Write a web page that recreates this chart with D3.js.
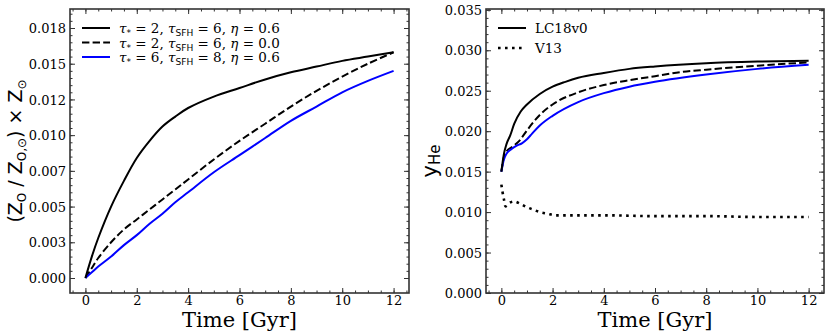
<!DOCTYPE html>
<html>
<head>
<meta charset="utf-8">
<script src="https://cdn.jsdelivr.net/npm/d3@7"></script>
<style>
  body { margin: 0; background: #fff; }
  svg { display: block; }
  .tick text { font-family: "DejaVu Serif", serif; font-size: 13px; fill: #000; }
</style>
</head>
<body>
<svg id="chart" width="831" height="336"></svg>
<script>
// ---- left panel: oxygen abundance vs time ----
var timeA = [0, 0.25, 0.5, 1, 1.5, 2, 2.5, 3, 3.5, 4, 5, 6, 7, 8, 9, 10, 11, 12];
var zFast = [0, 0.0015, 0.0028, 0.0050, 0.0068, 0.0084, 0.0096, 0.0106, 0.0113, 0.0119, 0.0127, 0.0133, 0.0139, 0.0144, 0.0148, 0.0152, 0.0155, 0.0158];
var zNoOut = [0, 0.0007, 0.0014, 0.0025, 0.0034, 0.0041, 0.0048, 0.0055, 0.0062, 0.0069, 0.0083, 0.0096, 0.0108, 0.0120, 0.0131, 0.0141, 0.0150, 0.0158];
var zSlow = [0, 0.0004, 0.0008, 0.0015, 0.0023, 0.0030, 0.0038, 0.0045, 0.0053, 0.0060, 0.0074, 0.0086, 0.0098, 0.0110, 0.0120, 0.0130, 0.0138, 0.0145];
var zTicks = [0, 0.0025, 0.005, 0.0075, 0.01, 0.0125, 0.015, 0.0175];
var zTickLabels = ["0.000", "0.003", "0.005", "0.007", "0.010", "0.012", "0.015", "0.018"];

// ---- right panel: helium yield vs time ----
var timeFast = [0, 0.1, 0.2, 0.35, 0.5, 0.75, 1, 1.5, 2, 2.5, 3, 4, 5, 6, 8, 10, 12];
var yFast = [0.0150, 0.0172, 0.0184, 0.0195, 0.0209, 0.0224, 0.0233, 0.0246, 0.0255, 0.0261, 0.0266, 0.0272, 0.0277, 0.0280, 0.0284, 0.0286, 0.0287];
var timeNoOut = [0, 0.1, 0.2, 0.4, 0.7, 1, 1.5, 2, 3, 4, 5, 6, 7, 8, 10, 12];
var yNoOut = [0.0150, 0.0168, 0.0175, 0.0180, 0.0188, 0.0201, 0.0220, 0.0233, 0.0248, 0.0257, 0.0263, 0.0268, 0.0273, 0.0276, 0.0281, 0.0285];
var timeSlow = [0, 0.1, 0.2, 0.4, 0.6, 0.8, 1, 1.2, 1.5, 2, 3, 4, 5, 6, 8, 10, 12];
var ySlow = [0.0150, 0.0165, 0.0172, 0.0178, 0.0182, 0.0185, 0.0190, 0.0197, 0.0207, 0.0219, 0.0236, 0.0247, 0.0255, 0.0261, 0.0270, 0.0277, 0.0282];
var timeV13 = [0, 0.05, 0.1, 0.16, 0.3, 0.5, 0.75, 1, 1.25, 1.5, 1.8, 2.1, 4, 6, 8, 10, 12];
var yV13 = [0.0134, 0.0124, 0.0116, 0.0107, 0.0111, 0.0113, 0.0110, 0.0106, 0.0103, 0.0100, 0.0098, 0.0096, 0.0096, 0.0095, 0.0095, 0.0094, 0.0094];
var yTicks = [0, 0.005, 0.01, 0.015, 0.02, 0.025, 0.03, 0.035];
var yTickLabels = ["0.000", "0.005", "0.010", "0.015", "0.020", "0.025", "0.030", "0.035"];

var timeTicks = [0, 2, 4, 6, 8, 10, 12];

var svg = d3.select("#chart");

function zip(xs, ys) {
  return xs.map(function(t, i) { return { t: t, v: ys[i] }; });
}

function drawPanel(p) {
  var x = d3.scaleLinear().domain([-0.6, 12.6]).range([p.left, p.right]),
      y = d3.scaleLinear().domain(p.yDomain).range([p.bottom, p.top]);
  var g = svg.append("g");

  // ticks point inward, on all four sides
  var xMinor = d3.range(-0.5, 12.6, 0.5), yMinor = d3.range(0, p.yDomain[1], p.yMinorStep);
  var addAxis = function(axis, tr) {
    var a = g.append("g").attr("transform", tr).call(axis);
    a.select(".domain").remove();
    a.selectAll(".tick line").attr("stroke", "#333").attr("stroke-width", 1);
    return a;
  };
  addAxis(d3.axisBottom(x).tickValues(xMinor).tickSize(-2.5).tickFormat(""), "translate(0," + p.bottom + ")");
  addAxis(d3.axisTop(x).tickValues(xMinor).tickSize(-2.5).tickFormat(""), "translate(0," + p.top + ")");
  addAxis(d3.axisLeft(y).tickValues(yMinor).tickSize(-2.5).tickFormat(""), "translate(" + p.left + ",0)");
  addAxis(d3.axisRight(y).tickValues(yMinor).tickSize(-2.5).tickFormat(""), "translate(" + p.right + ",0)");
  addAxis(d3.axisTop(x).tickValues(timeTicks).tickSize(-5).tickFormat(""), "translate(0," + p.top + ")");
  addAxis(d3.axisRight(y).tickValues(p.yTicks).tickSize(-5).tickFormat(""), "translate(" + p.right + ",0)");
  addAxis(d3.axisBottom(x).tickValues(timeTicks).tickSize(-5).tickPadding(3).tickFormat(d3.format("d")), "translate(0," + p.bottom + ")");
  var ya = addAxis(d3.axisLeft(y).tickValues(p.yTicks).tickSize(-5).tickPadding(4)
    .tickFormat(function(d, i) { return p.yLabels[i]; }), "translate(" + p.left + ",0)");
  ya.selectAll(".tick text").attr("dy", "0.36em");

  // lines
  var line = d3.line().x(function(d) { return x(d.t); }).y(function(d) { return y(d.v); }).curve(p.curve);
  p.series.forEach(function(s) {
    g.append("path")
      .attr("d", line(zip(s.t, s.v)))
      .attr("fill", "none")
      .attr("stroke", s.color)
      .attr("stroke-width", s.width || 2)
      .attr("stroke-dasharray", s.dash || null);
  });

  // frame
  g.append("rect")
    .attr("x", p.left).attr("y", p.top)
    .attr("width", p.right - p.left).attr("height", p.bottom - p.top)
    .attr("fill", "none").attr("stroke", "#333").attr("stroke-width", 1.6);

  // x label
  g.append("text")
    .attr("x", (p.left + p.right) / 2).attr("y", 327)
    .attr("text-anchor", "middle")
    .attr("font-family", "DejaVu Serif, serif").attr("font-size", 21)
    .text("Time [Gyr]");
  return g;
}

var left = drawPanel({
  left: 70, right: 409, top: 9, bottom: 293,
  yDomain: [-0.00105, 0.01883], yMinorStep: 0.0005,
  yTicks: zTicks, yLabels: zTickLabels,
  curve: d3.curveCatmullRom.alpha(0.5),
  series: [
    { t: timeA, v: zNoOut, color: "#000", dash: "7.4,3.2" },
    { t: timeA, v: zSlow, color: "#0000ff" },
    { t: timeA, v: zFast, color: "#000" }
  ]
});

var right = drawPanel({
  left: 486, right: 824, top: 9, bottom: 293,
  yDomain: [0, 0.0351], yMinorStep: 0.001,
  yTicks: yTicks, yLabels: yTickLabels,
  curve: d3.curveMonotoneX,
  series: [
    { t: timeNoOut, v: yNoOut, color: "#000", dash: "7.4,3.2" },
    { t: timeSlow, v: ySlow, color: "#0000ff" },
    { t: timeFast, v: yFast, color: "#000" },
    { t: timeV13, v: yV13, color: "#000", width: 2.6, dash: "2.6,4.4" }
  ]
});

// y labels
var yl = svg.append("text")
  .attr("transform", "translate(22,151) rotate(-90)")
  .attr("text-anchor", "middle")
  .attr("font-family", "DejaVu Sans, sans-serif").attr("font-size", 19);
yl.append("tspan").text("(Z");
yl.append("tspan").attr("font-size", 12).attr("dy", 4).text("O");
yl.append("tspan").attr("dy", -4).text(" / Z");
yl.append("tspan").attr("font-size", 12).attr("dy", 4).text("O,⊙");
yl.append("tspan").attr("dy", -4).text(") × Z");
yl.append("tspan").attr("font-size", 12).attr("dy", 4).text("⊙");

var yr = svg.append("text")
  .attr("transform", "translate(437,161) rotate(-90)")
  .attr("text-anchor", "middle")
  .attr("font-family", "DejaVu Sans, sans-serif").attr("font-size", 21);
yr.append("tspan").text("y");
yr.append("tspan").attr("font-size", 15).attr("dy", 3).text("He");

// legends
function legendRow(g, x0, yRow, s, build) {
  g.append("line")
    .attr("x1", x0).attr("x2", x0 + 28).attr("y1", yRow).attr("y2", yRow)
    .attr("stroke", s.color).attr("stroke-width", s.width || 2)
    .attr("stroke-dasharray", s.dash || null);
  var t = g.append("text").attr("x", x0 + 37).attr("y", yRow + 5)
    .attr("font-family", "DejaVu Serif, serif").attr("font-size", 13.5);
  build(t);
}
function modelLabel(tauStar, tauSfh, eta) {
  return function(t) {
    t.append("tspan").attr("font-style", "italic").text("τ");
    t.append("tspan").attr("font-size", 9).attr("dy", 3).attr("font-family", "DejaVu Sans, sans-serif").text("*");
    t.append("tspan").attr("dy", -3).text(" = " + tauStar + ", ");
    t.append("tspan").attr("font-style", "italic").text("τ");
    t.append("tspan").attr("font-size", 9).attr("dy", 3).attr("font-family", "DejaVu Sans, sans-serif").text("SFH");
    t.append("tspan").attr("dy", -3).text(" = " + tauSfh + ", ");
    t.append("tspan").attr("font-style", "italic").text("η");
    t.append("tspan").text(" = " + eta);
  };
}
var lg = svg.append("g");
legendRow(lg, 82, 28, { color: "#000" }, modelLabel(2, 6, "0.6"));
legendRow(lg, 82, 42.5, { color: "#000", dash: "7.4,3.2" }, modelLabel(2, 6, "0.0"));
legendRow(lg, 82, 57, { color: "#0000ff" }, modelLabel(6, 8, "0.6"));
legendRow(lg, 498, 28, { color: "#000" }, function(t) { t.text("LC18v0"); });
legendRow(lg, 498, 48, { color: "#000", width: 2.6, dash: "2.6,4.4" }, function(t) { t.text("V13"); });
</script>
</body>
</html>
